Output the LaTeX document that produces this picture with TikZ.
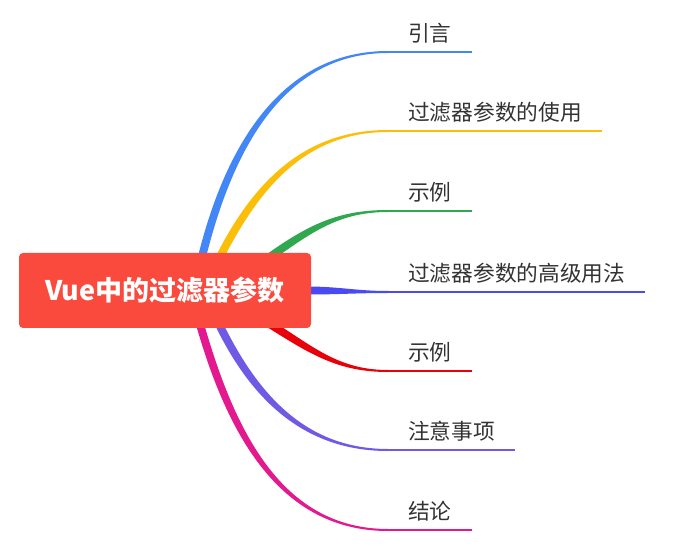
\documentclass[tikz,border=0pt]{standalone}
\usepackage{fontspec}
\setmainfont{Noto Sans CJK SC}
\usepackage{xcolor}
\usetikzlibrary{calc, math, backgrounds}

\definecolor{rootred}{HTML}{F94A3D}
\definecolor{brblue}{HTML}{4287F5}
\definecolor{bryellow}{HTML}{FBBF0A}
\definecolor{brgreen}{HTML}{2FA84F}
\definecolor{brindigo}{HTML}{4A4AF4}
\definecolor{brred}{HTML}{E8000B}
\definecolor{brpurple}{HTML}{6F5AE6}
\definecolor{brmagenta}{HTML}{E2198F}
\definecolor{labelgray}{HTML}{333333}

\tikzset{
  root/.style={fill=rootred, rounded corners=4pt, minimum width=292pt, minimum height=75pt,
    text=white, font=\fontsize{27}{30}\selectfont\bfseries},
  topic/.style={anchor=south west, inner xsep=20pt, inner ysep=10pt, text depth=0pt,
    text=labelgray, font=\fontsize{21.7}{25}\selectfont},
  uline/.style={line width=2pt},
}

\begin{document}
\begin{tikzpicture}[x=1pt, y=1pt]
\tikzmath{
\xe=388;
\w=4;
}
\useasboundingbox (0,0) rectangle (684,546);

\node[root] (root) at (165,255.5) {Vue中的过滤器参数};

\node[topic] (t1) at (\xe,494) {引言};
\node[topic] (t2) at (\xe,415) {过滤器参数的使用};
\node[topic] (t3) at (\xe,335) {示例};
\node[topic] (t4) at (\xe,254) {过滤器参数的高级用法};
\node[topic] (t5) at (\xe,175) {示例};
\node[topic] (t6) at (\xe,96) {注意事项};
\node[topic] (t7) at (\xe,16) {结论};

% where the branches leave the root
\coordinate (s1) at ($(root.north)+(37,-4)$);
\coordinate (s2) at ($(root.north)+(55,-4)$);
\coordinate (s3) at ($(root.north)+(105,-4)$);
\coordinate (s4) at ($(root.east)+(-4,0)$);
\coordinate (s5) at ($(root.south)+(105,4)$);
\coordinate (s6) at ($(root.south)+(54,4)$);
\coordinate (s7) at ($(root.south)+(35,4)$);

\begin{pgfonlayer}{background}
\fill[brblue] ($(s1)+(166:\w)$) to[out=76,in=180] ($(t1.south west)+(0,1)$)
  -- ($(t1.south west)+(0,-1)$) to[out=180,in=76] ($(s1)+(-14:\w)$) -- cycle;
\fill[bryellow] ($(s2)+(153:\w)$) to[out=63,in=180] ($(t2.south west)+(0,1)$)
  -- ($(t2.south west)+(0,-1)$) to[out=180,in=63] ($(s2)+(-27:\w)$) -- cycle;
\fill[brgreen] ($(s3)+(125:\w)$) to[out=35,in=180] ($(t3.south west)+(0,1)$)
  -- ($(t3.south west)+(0,-1)$) to[out=180,in=35] ($(s3)+(-55:\w)$) -- cycle;
\fill[brindigo] ($(s4)+(90:\w)$) to[out=0,in=180] ($(t4.south west)+(0,1)$)
  -- ($(t4.south west)+(0,-1)$) to[out=180,in=0] ($(s4)+(-90:\w)$) -- cycle;
\fill[brred] ($(s5)+(58:\w)$) to[out=-32,in=180] ($(t5.south west)+(0,1)$)
  -- ($(t5.south west)+(0,-1)$) to[out=180,in=-32] ($(s5)+(-122:\w)$) -- cycle;
\fill[brpurple] ($(s6)+(26:\w)$) to[out=-64,in=180] ($(t6.south west)+(0,1)$)
  -- ($(t6.south west)+(0,-1)$) to[out=180,in=-64] ($(s6)+(-154:\w)$) -- cycle;
\fill[brmagenta] ($(s7)+(16:\w)$) to[out=-74,in=180] ($(t7.south west)+(0,1)$)
  -- ($(t7.south west)+(0,-1)$) to[out=180,in=-74] ($(s7)+(-164:\w)$) -- cycle;
\end{pgfonlayer}

\draw[brblue, uline] (t1.south west) -- (t1.south east);
\draw[bryellow, uline] (t2.south west) -- (t2.south east);
\draw[brgreen, uline] (t3.south west) -- (t3.south east);
\draw[brindigo, uline] (t4.south west) -- (t4.south east);
\draw[brred, uline] (t5.south west) -- (t5.south east);
\draw[brpurple, uline] (t6.south west) -- (t6.south east);
\draw[brmagenta, uline] (t7.south west) -- (t7.south east);

\end{tikzpicture}
\end{document}
